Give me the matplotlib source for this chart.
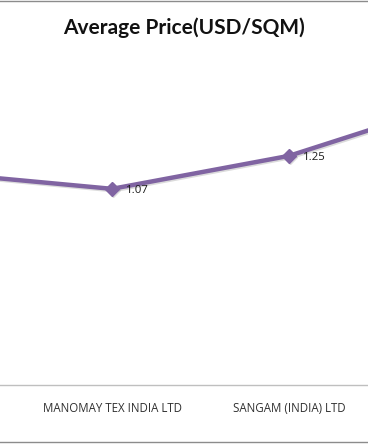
#!/usr/bin/env python3
"""Average price line chart (Excel-style), cropped view."""
import matplotlib
matplotlib.use('Agg')
import matplotlib.pyplot as plt
import matplotlib.patheffects as pe
from matplotlib.lines import Line2D

# data (first and last categories fall outside the visible crop)
companies = ['', 'MANOMAY TEX INDIA LTD', 'SANGAM (INDIA) LTD', '']
avg_price = [1.16, 1.07, 1.25, 1.56]
labelled = [False, True, True, False]  # only these labels lie inside the crop

LINE = '#8064A2'
AXIS = '#BFBFBF'
TEXT = '#303030'

fig = plt.figure(figsize=(3.68, 4.45), dpi=100)
fig.patch.set_facecolor('white')

# plot area wider than the figure, the picture is a crop of a bigger chart
ax = fig.add_axes([-0.417, 0.1348, 1.924, 0.7416])
ax.set_facecolor('none')

xs = list(range(len(companies)))
ax.plot(xs, avg_price, color=LINE, lw=3.2, marker='D', ms=7,
        markerfacecolor=LINE, markeredgecolor=LINE, solid_joinstyle='round',
        path_effects=[pe.SimpleLineShadow(offset=(1, -1), shadow_color='#999999', alpha=0.35),
                      pe.Normal()])

for x, v, show in zip(xs, avg_price, labelled):
    if not show:
        continue
    ax.annotate(f'{v:.2f}', (x, v), xytext=(10, -1), textcoords='offset points',
                ha='left', va='center', fontsize=8.2, color='#1a1a1a',
                family='Open Sans')

ax.set_xlim(-0.5, len(companies) - 0.5)
ax.set_ylim(0, 1.8)
ax.set_xticks(xs)
ax.set_xticklabels(companies, fontsize=8.3, color=TEXT, family='Open Sans')
ax.tick_params(axis='x', length=0, pad=12)
ax.set_yticks([])
for side in ['top', 'left', 'right']:
    ax.spines[side].set_visible(False)
ax.spines['bottom'].set_color(AXIS)
ax.spines['bottom'].set_linewidth(1.0)

fig.text(0.5, 0.937, 'Average Price(USD/SQM)', ha='center', va='center',
         fontsize=15, fontweight='bold', family='Lato', color='#111111')

# chart area border (top and bottom edges visible in the crop)
fig.add_artist(Line2D([0, 1], [0.997, 0.997], color='#8c8c8c', lw=1.0,
                      transform=fig.transFigure))
fig.add_artist(Line2D([0, 1], [0.006, 0.006], color='#8c8c8c', lw=1.0,
                      transform=fig.transFigure))

fig.savefig('out.png', dpi=100)
